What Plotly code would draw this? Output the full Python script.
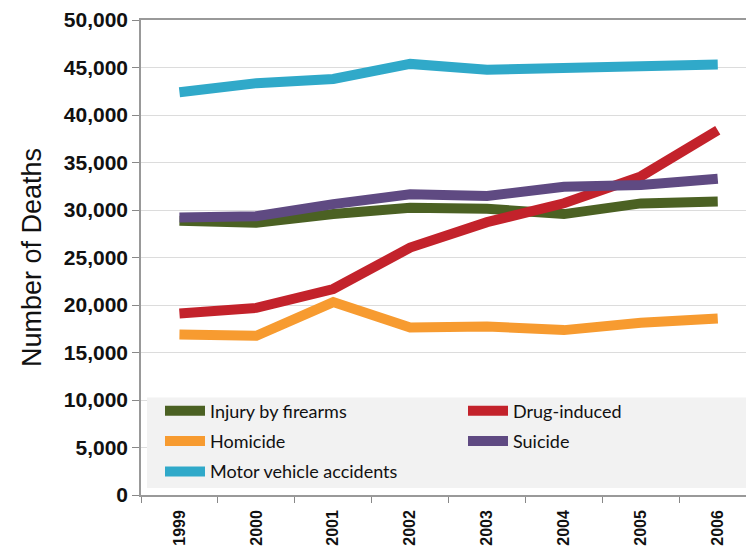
import plotly.graph_objects as go

years = ["1999", "2000", "2001", "2002", "2003", "2004", "2005", "2006"]
firearms = [28874, 28663, 29573, 30242, 30136, 29569, 30694, 30896]
drug = [19102, 19698, 21683, 26040, 28723, 30711, 33541, 38396]
homicide = [16889, 16765, 20308, 17638, 17732, 17357, 18124, 18573]
suicide = [29199, 29350, 30622, 31655, 31484, 32439, 32637, 33300]
motor = [42401, 43354, 43788, 45380, 44757, 44933, 45343, 45316]

# name, values, colour, legend column
series = [
    ("Injury by firearms", firearms, "#4b6123", "legend"),
    ("Drug-induced", drug, "#c3222b", "legend2"),
    ("Homicide", homicide, "#f79b30", "legend"),
    ("Suicide", suicide, "#5f4a82", "legend2"),
    ("Motor vehicle accidents", motor, "#30a9c9", "legend"),
]

# page has an 8px body margin; figure coordinates below are relative to the figure
W, H = 746, 540
L, R, T, B = 133, 0, 10, 53
pw = W - L - R
ph = H - T - B
cat_px = 76.9
span = pw / cat_px


def px_x(v):
    return (v - L) / pw


def px_y(v):
    return (H - B - v) / ph


fig = go.Figure()
for i, (name, vals, col, leg) in enumerate(series):
    fig.add_trace(go.Scatter(x=years, y=vals, name=name, mode="lines",
                             line=dict(color=col, width=10, shape="linear"),
                             legend=leg, legendgroup="g%d" % i,
                             hoverinfo="skip"))

# gray legend background
fig.add_shape(type="rect", xref="paper", yref="paper",
              x0=px_x(139), x1=1.0, y0=px_y(480), y1=px_y(389),
              fillcolor="#f2f2f2", line=dict(width=0), layer="above")

legfont = dict(family="Lato", size=18, color="#111111")
common = dict(orientation="v", xanchor="left", yanchor="top",
              bgcolor="rgba(0,0,0,0)", itemwidth=40, tracegroupgap=4,
              traceorder="grouped", font=legfont, borderwidth=0)

fig.update_layout(
    width=W, height=H,
    margin=dict(l=L, r=R, t=T, b=B),
    paper_bgcolor="white", plot_bgcolor="white",
    showlegend=True,
    legend=dict(x=px_x(152), y=px_y(384), **common),
    legend2=dict(x=px_x(455), y=px_y(384), **common),
    xaxis=dict(type="category", range=[-0.5, -0.5 + span],
               tickson="boundaries", ticks="outside", ticklen=6, tickcolor="#888888",
               showline=True, linecolor="#999999", linewidth=1.5, mirror=True,
               showgrid=False, tickangle=-90, ticklabelstandoff=7,
               tickfont=dict(family="Liberation Sans", size=16, color="#111111", weight="bold")),
    yaxis=dict(range=[0, 50000], dtick=5000, tickformat=",d",
               ticks="outside", ticklen=7, tickcolor="#888888",
               showline=True, linecolor="#999999", linewidth=1.5,
               showgrid=True, gridcolor="#dcdcdc", gridwidth=1, zeroline=False,
               ticklabeloverflow="allow",
               tickfont=dict(family="Liberation Sans", size=21, color="#111111", weight="bold"),
               title=dict(text="Number of Deaths", standoff=14,
                          font=dict(family="Liberation Sans", size=27, color="#111111"))),
)

fig.write_html("out.html")
